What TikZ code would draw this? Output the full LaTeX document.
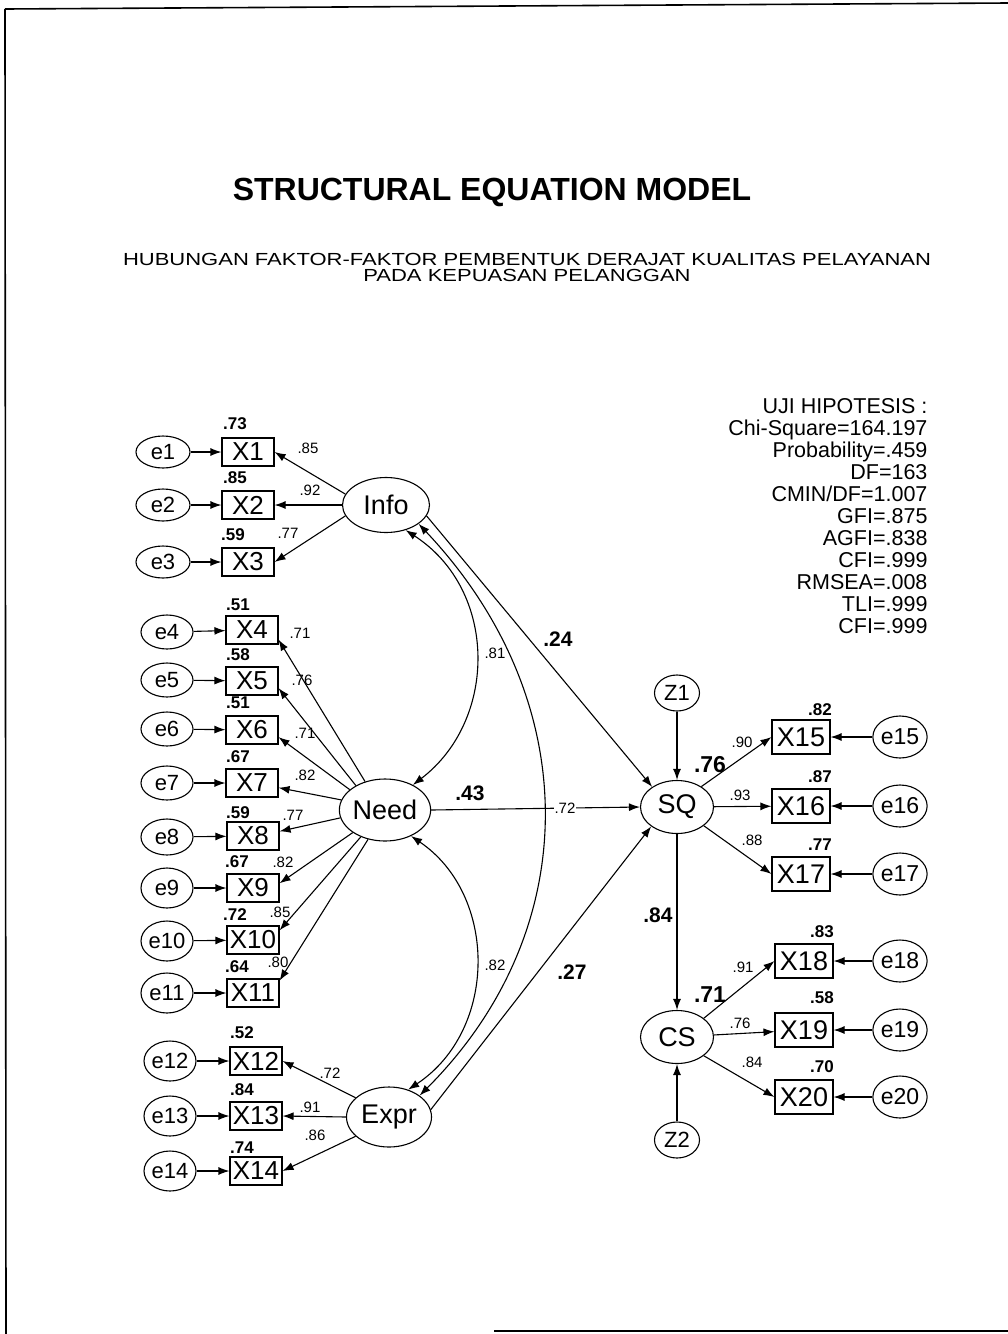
\documentclass[tikz,border=0pt]{standalone}
\usepackage{fontspec}
\usepackage{graphicx}
\setmainfont{Liberation Sans}
\usetikzlibrary{arrows.meta,shapes.geometric}
\begin{document}
\begin{tikzpicture}[x=1pt,y=-1pt,
  line width=1.1pt,
  >={Latex[length=11pt,width=8pt]},
  lat/.style={ellipse,draw,inner sep=0pt,font=\fontsize{27}{27}\selectfont},
  err/.style={ellipse,draw,inner sep=0pt,minimum width=52pt,minimum height=36pt,font=\fontsize{22}{22}\selectfont},
  errr/.style={err,minimum width=54pt,minimum height=42pt,font=\fontsize{23}{23}\selectfont},
  obs/.style={rectangle,draw,inner sep=0pt,minimum width=52pt,minimum height=28pt,font=\fontsize{26}{26}\selectfont},
  obsr/.style={obs,minimum width=58pt,minimum height=34pt,font=\fontsize{27}{27}\selectfont},
  lab/.style={font=\fontsize{15}{15}\selectfont,inner sep=0pt},
  rsq/.style={font=\bfseries\fontsize{17}{17}\selectfont,inner sep=0pt},
  coef/.style={font=\bfseries\fontsize{21}{21}\selectfont,inner sep=0pt},
  stat/.style={anchor=base east,inner sep=0pt,font=\fontsize{21.5}{21.5}\selectfont},
  subt/.style={anchor=base,inner sep=0pt,text height=12.5pt,text depth=0pt,font=\fontsize{17.5}{17.5}\selectfont},
]
\useasboundingbox (0,0) rectangle (1008,1334);
% frame
\draw[line width=1.6pt] (5,9) -- (1008,3);
\draw[line width=1.6pt] (5,9) -- (6,1334);
\draw[line width=1.6pt] (494,1331) -- (1008,1331);

% titles
\node[anchor=base,inner sep=0pt,font=\bfseries\fontsize{32}{32}\selectfont] (title) at (492,200) {STRUCTURAL EQUATION MODEL};
\node[subt] (sub1) at (527,265) {\scalebox{1.257}[1]{HUBUNGAN FAKTOR-FAKTOR PEMBENTUK DERAJAT KUALITAS PELAYANAN}};
\node[subt] (sub2) at (527,281) {\scalebox{1.257}[1]{PADA KEPUASAN PELANGGAN}};

% statistics
\node[stat] (s0) at (928,413) {UJI HIPOTESIS :};
\node[stat] (s1) at (928,435) {Chi-Square=164.197};
\node[stat] (s2) at (928,457) {Probability=.459};
\node[stat] (s3) at (928,479) {DF=163};
\node[stat] (s4) at (928,501) {CMIN/DF=1.007};
\node[stat] (s5) at (928,523) {GFI=.875};
\node[stat] (s6) at (928,545) {AGFI=.838};
\node[stat] (s7) at (928,567) {CFI=.999};
\node[stat] (s8) at (928,589) {RMSEA=.008};
\node[stat] (s9) at (928,611) {TLI=.999};
\node[stat] (s10) at (928,633) {CFI=.999};

% latent variables
\node[lat,minimum width=87pt,minimum height=55pt] (Info) at (386,505) {Info};
\node[lat,minimum width=90pt,minimum height=62pt] (Need) at (385,810) {Need};
\node[lat,minimum width=85pt,minimum height=60pt] (Expr) at (389,1117) {Expr};
\node[lat,minimum width=73pt,minimum height=53pt] (SQ) at (677,807) {SQ};
\node[lat,minimum width=73pt,minimum height=53pt] (CS) at (677,1037) {CS};
\node[err,minimum width=45pt,minimum height=36pt] (Z1) at (677,693) {Z1};
\node[err,minimum width=45pt,minimum height=36pt] (Z2) at (677,1140) {Z2};

% left indicators
\node[obs] (X1) at (248,452) {X1};
\node[obs] (X2) at (248,505) {X2};
\node[obs] (X3) at (248,562) {X3};
\node[obs] (X4) at (252,630) {X4};
\node[obs] (X5) at (252,681) {X5};
\node[obs] (X6) at (252,730) {X6};
\node[obs] (X7) at (252,783) {X7};
\node[obs] (X8) at (253,836) {X8};
\node[obs] (X9) at (253,888) {X9};
\node[obs] (X10) at (253,940) {X10};
\node[obs] (X11) at (253,993) {X11};
\node[obs] (X12) at (256,1061) {X12};
\node[obs] (X13) at (256,1116) {X13};
\node[obs] (X14) at (256,1171) {X14};

\node[err,minimum width=54pt,minimum height=32pt] (e1) at (163,452) {e1};
\node[err,minimum width=54pt,minimum height=32pt] (e2) at (163,505) {e2};
\node[err,minimum width=54pt,minimum height=32pt] (e3) at (163,562) {e3};
\node[err,minimum height=34pt] (e4) at (167,632) {e4};
\node[err,minimum height=34pt] (e5) at (167,680) {e5};
\node[err,minimum height=34pt] (e6) at (167,729) {e6};
\node[err,minimum height=34pt] (e7) at (167,783) {e7};
\node[err,minimum height=36pt] (e8) at (167,837) {e8};
\node[err,minimum height=40pt] (e9) at (167,888) {e9};
\node[err,minimum height=40pt] (e10) at (167,941) {e10};
\node[err,minimum height=40pt] (e11) at (167,993) {e11};
\node[err,minimum height=40pt] (e12) at (170,1061) {e12};
\node[err,minimum height=40pt] (e13) at (170,1116) {e13};
\node[err,minimum height=40pt] (e14) at (170,1171) {e14};

% right indicators
\node[obsr] (X15) at (801,737) {X15};
\node[obsr] (X16) at (801,806) {X16};
\node[obsr] (X17) at (801,874) {X17};
\node[obsr] (X18) at (804,961) {X18};
\node[obsr] (X19) at (804,1030) {X19};
\node[obsr] (X20) at (804,1097) {X20};
\node[errr] (e15) at (900,737) {e15};
\node[errr] (e16) at (900,806) {e16};
\node[errr] (e17) at (900,874) {e17};
\node[errr] (e18) at (900,961) {e18};
\node[errr] (e19) at (900,1030) {e19};
\node[errr] (e20) at (900,1097) {e20};

% error arrows
\foreach \i in {1,...,14} { \draw[->] (e\i) -- (X\i); }
\foreach \i in {15,...,20} { \draw[->] (e\i) -- (X\i); }

% loadings Info
\draw[->] (Info.165) -- (X1.east);
\draw[->] (Info.west) -- (X2.east);
\draw[->] (Info.195) -- (X3.east);
% loadings Need
\draw[->] (Need.125) -- (X4.-20);
\draw[->] (Need.140) -- (X5.-15);
\draw[->] (Need.150) -- (X6.-15);
\draw[->] (Need.167) -- (X7.-10);
\draw[->] (Need.190) -- (X8.10);
\draw[->] (Need.215) -- (X9.10);
\draw[->] (Need.228) -- (X10.20);
\draw[->] (Need.240) -- (X11.25);
% loadings Expr
\draw[->] (Expr.150) -- (X12.east);
\draw[->] (Expr.west) -- (X13.east);
\draw[->] (Expr.210) -- (X14.east);

% covariances
\draw[<->] (Info.308) .. controls (498,590) and (498,720) .. (Need.42);
\draw[<->] (Info.330) .. controls (585,700) and (585,930) .. (Expr.35);
\draw[<->] (Need.315) .. controls (498,895) and (498,1030) .. (Expr.55);

% structural paths
\draw[->] (Info.-15) -- (SQ.141);
\draw[->] (Need.east) -- (SQ.west);
\draw[->] (Expr.10) -- (SQ.217);
\draw[->] (SQ.south) -- (CS.north);
\draw[->] (Z1) -- (SQ);
\draw[->] (Z2) -- (CS);

% loadings SQ, CS
\draw[->] (SQ.40) -- (X15.west);
\draw[->] (SQ) -- (X16);
\draw[->] (SQ.-35) -- (X17.west);
\draw[->] (CS.35) -- (X18.west);
\draw[->] (CS) -- (X19);
\draw[->] (CS.-35) -- (X20.west);

% R-square labels left
\node[rsq] (r1) at (235,424) {.73};
\node[rsq] (r2) at (235,478) {.85};
\node[rsq] (r3) at (233,535) {.59};
\node[rsq] (r4) at (238,605) {.51};
\node[rsq] (r5) at (238,655) {.58};
\node[rsq] (r6) at (238,703) {.51};
\node[rsq] (r7) at (238,757) {.67};
\node[rsq] (r8) at (238,813) {.59};
\node[rsq] (r9) at (237,862) {.67};
\node[rsq] (r10) at (235,915) {.72};
\node[rsq] (r11) at (237,967) {.64};
\node[rsq] (r12) at (242,1033) {.52};
\node[rsq] (r13) at (242,1090) {.84};
\node[rsq] (r14) at (242,1148) {.74};
% R-square right
\node[rsq] (r15) at (820,710) {.82};
\node[rsq] (r16) at (820,777) {.87};
\node[rsq] (r17) at (820,845) {.77};
\node[rsq] (r18) at (822,932) {.83};
\node[rsq] (r19) at (822,998) {.58};
\node[rsq] (r20) at (822,1067) {.70};
\node[font=\bfseries\fontsize{23}{23}\selectfont,inner sep=0pt] (rSQ) at (710,765) {.76};
\node[font=\bfseries\fontsize{23}{23}\selectfont,inner sep=0pt] (rCS) at (710,995) {.71};

% loading labels
\node[lab] (l1) at (308,448) {.85};
\node[lab] (l2) at (310,490) {.92};
\node[lab] (l3) at (288,533) {.77};
\node[lab] (l4) at (300,633) {.71};
\node[lab] (l5) at (302,680) {.76};
\node[lab] (l6) at (305,733) {.71};
\node[lab] (l7) at (305,775) {.82};
\node[lab] (l8) at (293,815) {.77};
\node[lab] (l9) at (283,862) {.82};
\node[lab] (l10) at (280,912) {.85};
\node[lab] (l11) at (278,962) {.80};
\node[lab] (l12) at (330,1073) {.72};
\node[lab] (l13) at (310,1107) {.91};
\node[lab] (l14) at (315,1135) {.86};
\node[lab] (l15) at (742,742) {.90};
\node[lab] (l16) at (740,795) {.93};
\node[lab] (l17) at (752,840) {.88};
\node[lab] (l18) at (743,967) {.91};
\node[lab] (l19) at (740,1023) {.76};
\node[lab] (l20) at (752,1062) {.84};

% covariance labels
\node[lab] (c1) at (495,653) {.81};
\node[lab,fill=white,inner sep=1pt] (c2) at (565,808) {.72};
\node[lab] (c3) at (495,965) {.82};

% path coefficients
\node[coef] (p1) at (558,639) {.24};
\node[coef] (p2) at (470,793) {.43};
\node[coef] (p3) at (572,972) {.27};
\node[coef] (p4) at (658,915) {.84};
\end{tikzpicture}
\end{document}
